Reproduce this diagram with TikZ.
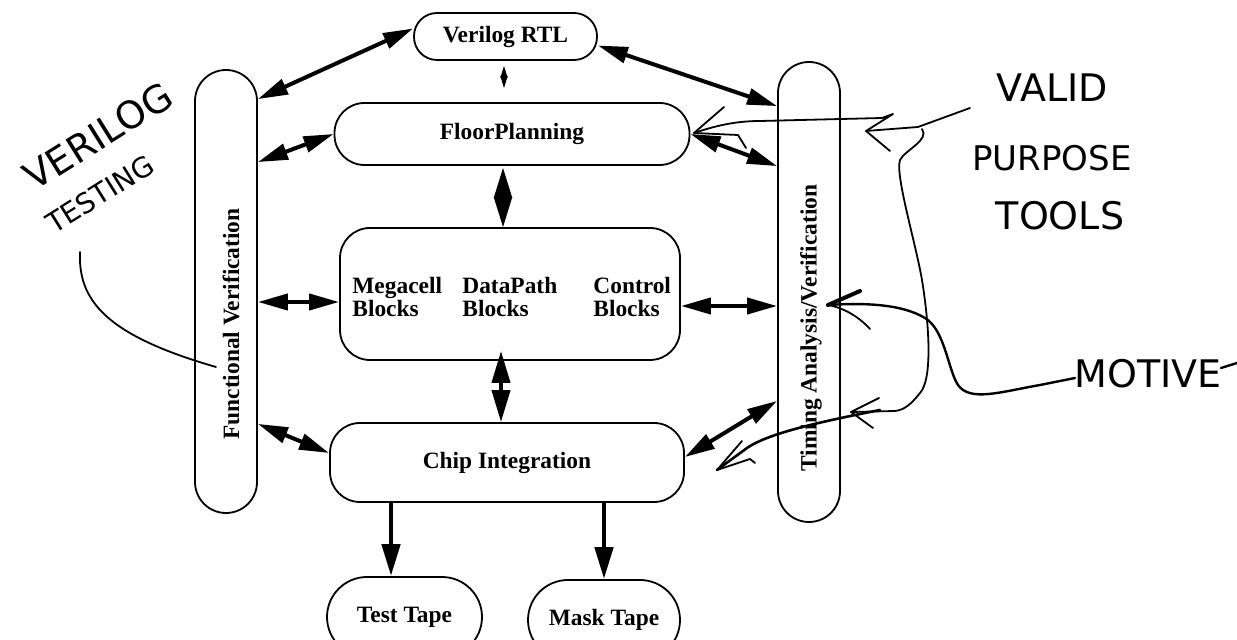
\documentclass[tikz,border=0pt]{standalone}
\usepackage{fontspec}
\setmainfont{Liberation Serif}
\newfontfamily\handfont{DejaVu Sans}
\usetikzlibrary{arrows.meta,calc}
\newcommand\lblfont{\bfseries\fontsize{11.7}{12}\selectfont}
\tikzset{
  box/.style={draw, line width=0.9pt, inner sep=0pt, font=\lblfont},
  lbl/.style={inner sep=0pt, font=\lblfont},
  dbl/.style={line width=2pt, {Triangle[length=15pt,width=8pt]}-{Triangle[length=15pt,width=8pt]}},
  sgl/.style={line width=2.4pt, -{Triangle[length=16pt,width=9pt]}},
  bigdia/.style={line width=1pt, {Triangle[length=15pt,width=9pt]}-{Triangle[length=15pt,width=9pt]}},
  vdbl/.style={line width=2pt, {Triangle[length=16pt,width=9pt]}-{Triangle[length=16pt,width=9pt]}},
  smalldia/.style={line width=0.6pt, {Triangle[length=6pt,width=3.5pt]}-{Triangle[length=6pt,width=3.5pt]}},
  hand/.style={line width=0.9pt, line cap=round, line join=round},
  handtxt/.style={inner sep=0pt},
}
\begin{document}
\begin{tikzpicture}[x=0.5pt,y=-0.5pt]
\useasboundingbox (0,0) rectangle (1237,640);
\clip (0,0) rectangle (1237,640);

% nodes
\node[box, rounded corners=11.5pt, minimum width=91.5pt, minimum height=23.5pt] (rtl) at (505.5,36.5) {Verilog RTL};
\node[box, rounded corners=15pt, minimum width=177.5pt, minimum height=31pt] (fp) at (512,134) {FloorPlanning};
\node[box, rounded corners=15pt, minimum width=170pt, minimum height=66pt] (blocks) at (510,294) {};
\node[lbl, anchor=west, align=left] (mega) at (352,297) {Megacell\\Blocks};
\node[lbl, anchor=west, align=left] (dp) at (462,297) {DataPath\\Blocks};
\node[lbl, anchor=west, align=left] (ctrl) at (593,297) {Control\\Blocks};
\node[box, rounded corners=15pt, minimum width=177pt, minimum height=39.5pt] (chip) at (507,462.5) {Chip Integration};
\node[box, rounded corners=20pt, minimum width=77.5pt, minimum height=40pt] (tt) at (404.5,617) {Test Tape};
\node[box, rounded corners=20pt, minimum width=76pt, minimum height=40pt] (mt) at (604,620) {Mask Tape};
\node[box, rounded corners=15.5pt, minimum width=31pt, minimum height=221.5pt] (fv) at (226,291.5) {};
\node[lbl, rotate=90] (fvt) at (231,324) {Functional Verification};
\node[box, rounded corners=15.5pt, minimum width=31pt, minimum height=230pt] (tv) at (809,292) {};
\node[lbl, rotate=90] (tvt) at (811,328) {Timing Analysis/Verification};

% connectors
\draw[dbl] ([yshift=4pt]rtl.west) -- ([yshift=-15pt]fv.north east);
\draw[dbl] ([yshift=-4.5pt]rtl.east) -- ([yshift=-22.5pt]tv.north west);
\draw[smalldia, shorten <=2.5pt, shorten >=7pt] ([xshift=-0.75pt]rtl.south) -- ([xshift=-0.75pt]rtl.south |- fp.north);
\draw[dbl] (fp.west) -- ([yshift=-46.5pt]fv.north east);
\draw[dbl] (fp.east) -- ([yshift=-52.5pt]tv.north west);
\draw[bigdia, shorten <=1pt] ([xshift=-4.5pt]fp.south) -- ([xshift=-3.5pt]blocks.north);
\draw[dbl] ([yshift=-4pt]blocks.west) -- ([yshift=-4pt]blocks.west -| fv.east);
\draw[dbl] ([yshift=-6pt]blocks.east) -- ([yshift=-6pt]blocks.east -| tv.west);
\draw[vdbl] ([xshift=-4.5pt,yshift=5pt]blocks.south) -- ([xshift=-4.5pt]blocks.south |- chip.north);
\draw[dbl] ([yshift=4.75pt]chip.west) -- ([yshift=45pt]fv.south east);
\draw[dbl] ([yshift=2.75pt]chip.east) -- ([yshift=61pt]tv.south west);
\draw[sgl] ([xshift=-6.75pt]tt.north |- chip.south) -- ([xshift=-6.75pt]tt.north);
\draw[sgl] (mt.north |- chip.south) -- (mt.north);

% handwritten notes
\node[handtxt, rotate=32, font=\handfont\fontsize{19}{19}\selectfont] (h1) at (98,136) {VERILOG};
\node[handtxt, rotate=32, font=\handfont\fontsize{14}{14}\selectfont] (h2) at (100,194) {TESTING};
\node[handtxt, font=\handfont\fontsize{19}{19}\selectfont] (h3) at (1052,88) {VALID};
\node[handtxt, font=\handfont\fontsize{17}{17}\selectfont] (h4) at (1052,158) {PURPOSE};
\node[handtxt, font=\handfont\fontsize{19}{19}\selectfont] (h5) at (1060,216) {TOOLS};
\node[handtxt, font=\handfont\fontsize{19}{19}\selectfont] (h6) at (1148,374) {MOTIVE};

\draw[hand] (80,252) .. controls (78,300) and (105,335) .. (216,367);

\draw[hand] (746,148) -- (738,135) -- (694,133) -- (724,107);
\draw[hand] (694,133) .. controls (715,126) and (735,121) .. (760,121) -- (882,118) -- (893,114) -- (866,131) -- (890,151);
\draw[hand] (970,108) -- (918,127) -- (866,131);
\draw[hand] (922,129) .. controls (930,140) and (905,150) .. (900,160) .. controls (895,175) and (915,240) .. (922,280) .. controls (930,330) and (932,380) .. (920,393) .. controls (912,403) and (905,410) .. (895,411) -- (851,412);
\draw[hand] (879,398) -- (851,412) -- (873,428);
\draw[hand, line width=1.3pt] (880,410) .. controls (830,420) and (770,432) .. (747,448) -- (717,470);
\draw[hand] (742,441) -- (717,470) -- (750,459) -- (755,463);

\draw[hand, line width=1.2pt] (1237,363) -- (1221,368);
\draw[hand, line width=1.2pt] (1075,378) -- (1040,385) .. controls (1000,392) and (970,402) .. (958,385) .. controls (948,370) and (945,330) .. (925,318) .. controls (900,303) and (860,303) .. (828,305);
\draw[hand, line width=2pt] (828,305) -- (860,291);
\draw[hand] (828,305) .. controls (845,308) and (860,318) .. (870,329);
\end{tikzpicture}
\end{document}
